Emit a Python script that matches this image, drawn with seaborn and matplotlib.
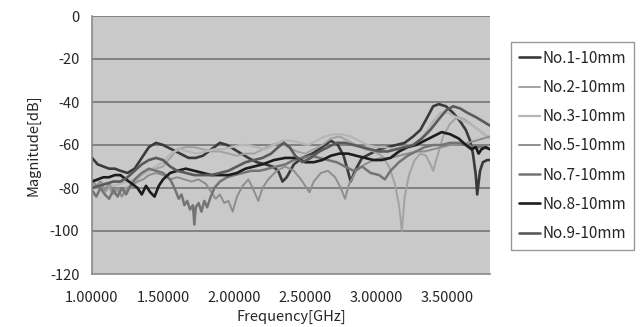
import matplotlib
matplotlib.use("Agg")
import matplotlib.pyplot as plt
import seaborn as sns
import pandas as pd

# Measured transmission magnitude for each 10 mm sample
freq_no1 = [1.00, 1.04, 1.08, 1.12, 1.16, 1.20, 1.25, 1.30, 1.35, 1.40, 1.45, 1.50, 1.56, 1.62, 1.68, 1.73,
            1.78, 1.84, 1.90, 1.95, 2.00, 2.05, 2.10, 2.16, 2.22, 2.27, 2.31, 2.34, 2.37, 2.42, 2.48, 2.55,
            2.62, 2.68, 2.73, 2.77, 2.80, 2.82, 2.85, 2.90, 2.96, 3.02, 3.08, 3.14, 3.20, 3.26, 3.31, 3.36,
            3.40, 3.44, 3.49, 3.54, 3.59, 3.63, 3.66, 3.68, 3.70, 3.71, 3.73, 3.75, 3.78, 3.80]
db_no1 = [-66, -69, -70, -71, -71, -72, -73, -71, -66, -61, -59, -60, -62, -64, -66, -66,
          -65, -62, -59, -60, -62, -64, -66, -68, -69, -70, -72, -77, -75, -69, -66, -64,
          -61, -58, -60, -65, -72, -77, -72, -66, -64, -62, -61, -60, -59, -56, -53, -47,
          -42, -41, -42, -45, -49, -53, -58, -64, -74, -83, -72, -68, -67, -67]

freq_no2 = [1.00, 1.03, 1.06, 1.09, 1.12, 1.15, 1.18, 1.21, 1.24, 1.27, 1.30, 1.35, 1.40, 1.45, 1.50, 1.55,
            1.60, 1.66, 1.72, 1.78, 1.84, 1.90, 1.96, 2.02, 2.08, 2.14, 2.20, 2.26, 2.32, 2.38, 2.44, 2.50,
            2.56, 2.62, 2.68, 2.74, 2.80, 2.86, 2.92, 2.98, 3.04, 3.09, 3.13, 3.16, 3.18, 3.20, 3.23, 3.27,
            3.31, 3.35, 3.38, 3.40, 3.43, 3.47, 3.52, 3.57, 3.62, 3.68, 3.74, 3.80]
db_no2 = [-78, -80, -79, -82, -80, -83, -81, -84, -80, -79, -77, -74, -72, -71, -70, -66,
          -62, -61, -61, -62, -63, -63, -64, -65, -64, -64, -62, -60, -59, -61, -63, -64,
          -62, -60, -57, -56, -58, -60, -62, -63, -65, -70, -78, -88, -100, -84, -74, -67,
          -64, -65, -69, -72, -65, -56, -50, -47, -48, -51, -54, -57]

freq_no3 = [1.00, 1.05, 1.10, 1.15, 1.20, 1.25, 1.30, 1.35, 1.40, 1.45, 1.50, 1.54, 1.58, 1.62, 1.68, 1.74,
            1.80, 1.86, 1.92, 1.98, 2.04, 2.10, 2.16, 2.22, 2.28, 2.34, 2.40, 2.46, 2.52, 2.58, 2.64, 2.70,
            2.76, 2.82, 2.88, 2.94, 3.00, 3.06, 3.12, 3.18, 3.24, 3.30, 3.35, 3.40, 3.45, 3.50, 3.56, 3.62,
            3.68, 3.74, 3.80]
db_no3 = [-76, -77, -78, -79, -78, -77, -76, -74, -72, -70, -68, -65, -63, -62, -63, -64,
          -63, -62, -62, -61, -60, -60, -61, -62, -60, -58, -58, -59, -60, -58, -56, -55,
          -55, -56, -58, -60, -61, -61, -62, -61, -60, -58, -54, -49, -45, -45, -47, -49,
          -51, -54, -57]

freq_no5 = [1.00, 1.03, 1.06, 1.09, 1.12, 1.15, 1.18, 1.21, 1.24, 1.28, 1.32, 1.36, 1.40, 1.45, 1.50, 1.55,
            1.60, 1.65, 1.70, 1.75, 1.80, 1.84, 1.87, 1.90, 1.93, 1.96, 1.99, 2.02, 2.06, 2.10, 2.13, 2.15,
            2.17, 2.20, 2.24, 2.30, 2.36, 2.42, 2.47, 2.51, 2.53, 2.56, 2.61, 2.66, 2.71, 2.75, 2.78, 2.81,
            2.86, 2.92, 2.98, 3.04, 3.10, 3.16, 3.22, 3.28, 3.34, 3.40, 3.46, 3.52, 3.58, 3.64, 3.70, 3.75,
            3.80]
db_no5 = [-76, -79, -77, -81, -78, -82, -80, -84, -81, -79, -77, -76, -74, -73, -74, -76,
          -75, -76, -77, -76, -78, -82, -85, -83, -87, -86, -91, -84, -79, -76, -80, -83,
          -86, -80, -76, -72, -70, -72, -76, -80, -82, -77, -73, -72, -75, -80, -85, -78,
          -72, -69, -67, -66, -66, -65, -64, -63, -63, -62, -61, -60, -60, -59, -58, -57,
          -56]

freq_no7 = [1.00, 1.03, 1.06, 1.09, 1.12, 1.15, 1.18, 1.21, 1.24, 1.27, 1.30, 1.35, 1.40, 1.45, 1.50, 1.55,
            1.58, 1.61, 1.63, 1.65, 1.67, 1.69, 1.71, 1.72, 1.73, 1.75, 1.77, 1.79, 1.81, 1.83, 1.86, 1.90,
            1.95, 2.00, 2.06, 2.12, 2.18, 2.24, 2.30, 2.36, 2.42, 2.48, 2.54, 2.60, 2.66, 2.72, 2.78, 2.84,
            2.90, 2.96, 3.02, 3.06, 3.10, 3.16, 3.22, 3.28, 3.34, 3.40, 3.46, 3.52, 3.58, 3.64, 3.70, 3.75,
            3.80]
db_no7 = [-81, -84, -80, -83, -85, -81, -84, -80, -83, -79, -76, -73, -71, -72, -73, -76,
          -80, -85, -83, -88, -86, -90, -88, -97, -89, -87, -91, -86, -89, -85, -80, -77,
          -75, -74, -73, -72, -72, -71, -70, -69, -67, -66, -65, -66, -67, -68, -70, -72,
          -70, -73, -74, -76, -72, -68, -65, -63, -61, -60, -60, -59, -59, -60, -61, -61,
          -62]

freq_no8 = [1.00, 1.04, 1.08, 1.12, 1.16, 1.20, 1.24, 1.28, 1.32, 1.35, 1.38, 1.41, 1.44, 1.47, 1.50, 1.55,
            1.60, 1.66, 1.72, 1.78, 1.84, 1.90, 1.96, 2.02, 2.08, 2.14, 2.20, 2.28, 2.36, 2.44, 2.50, 2.56,
            2.62, 2.68, 2.74, 2.80, 2.86, 2.92, 2.98, 3.04, 3.10, 3.16, 3.22, 3.28, 3.34, 3.40, 3.46, 3.52,
            3.58, 3.63, 3.67, 3.70, 3.72, 3.74, 3.77, 3.80]
db_no8 = [-77, -76, -75, -75, -74, -74, -76, -78, -80, -83, -79, -82, -84, -79, -76, -73,
          -72, -71, -72, -73, -74, -74, -74, -73, -71, -70, -69, -67, -66, -66, -68, -68,
          -67, -65, -64, -64, -65, -66, -67, -67, -66, -63, -61, -60, -58, -56, -54, -55,
          -57, -60, -62, -61, -64, -62, -61, -62]

freq_no9 = [1.00, 1.05, 1.10, 1.15, 1.20, 1.25, 1.30, 1.35, 1.40, 1.45, 1.50, 1.55, 1.60, 1.66, 1.72, 1.78,
            1.84, 1.90, 1.96, 2.02, 2.08, 2.14, 2.20, 2.26, 2.31, 2.35, 2.39, 2.43, 2.48, 2.54, 2.60, 2.66,
            2.72, 2.78, 2.84, 2.90, 2.96, 3.02, 3.08, 3.14, 3.20, 3.26, 3.32, 3.38, 3.44, 3.49, 3.54, 3.59,
            3.64, 3.70, 3.75, 3.80]
db_no9 = [-80, -79, -78, -77, -77, -75, -72, -69, -67, -66, -67, -70, -72, -73, -74, -74,
          -74, -73, -72, -70, -68, -67, -66, -64, -61, -59, -61, -65, -68, -66, -63, -61,
          -59, -59, -60, -61, -62, -63, -63, -62, -61, -60, -57, -53, -48, -44, -42, -43,
          -45, -47, -49, -51]

labels = ["No.1-10mm", "No.2-10mm", "No.3-10mm", "No.5-10mm", "No.7-10mm", "No.8-10mm", "No.9-10mm"]
freqs = [freq_no1, freq_no2, freq_no3, freq_no5, freq_no7, freq_no8, freq_no9]
mags = [db_no1, db_no2, db_no3, db_no5, db_no7, db_no8, db_no9]
colors = ["#3a3a3a", "#a2a2a2", "#b6b6b6", "#8e8e8e", "#747474", "#1c1c1c", "#5a5a5a"]
widths = [1.9, 1.4, 1.6, 1.4, 1.8, 1.9, 1.9]

x_ticks = [1.0, 1.5, 2.0, 2.5, 3.0, 3.5]
y_ticks = [0, -20, -40, -60, -80, -100, -120]

frames = [pd.DataFrame({"freq": f, "db": m, "sample": lab}) for f, m, lab in zip(freqs, mags, labels)]
df = pd.concat(frames, ignore_index=True)

sns.set_theme(style="white")
plt.rcParams["font.family"] = ["Noto Sans CJK JP", "DejaVu Sans"]

fig = plt.figure(figsize=(6.42, 3.27), dpi=100)
ax = fig.add_axes([92 / 642, 1 - 274 / 327, (490 - 92) / 642, (274 - 16) / 327])
ax.set_facecolor("#c9c9c9")

for lab, col, lw in zip(labels, colors, widths):
    sns.lineplot(data=df[df["sample"] == lab], x="freq", y="db", color=col, linewidth=lw,
                 estimator=None, sort=False, label=lab, ax=ax)

ax.set_xlim(1.0, 3.8)
ax.set_ylim(-120, 0)
ax.set_xticks(x_ticks)
ax.set_xticklabels([f"{v:.5f}" for v in x_ticks], fontsize=10.5)
ax.set_yticks(y_ticks)
ax.set_yticklabels([str(v) for v in y_ticks], fontsize=10.5)
ax.tick_params(axis="x", direction="in", length=4, color="#808080", pad=12)
ax.tick_params(axis="y", length=0, pad=9)

for v in y_ticks[:-1]:
    ax.axhline(v, color="#767676", linewidth=1.2, zorder=0.5)

for side in ["top", "right"]:
    ax.spines[side].set_visible(False)
ax.spines["left"].set_color("#8a8a8a")
ax.spines["bottom"].set_color("#8a8a8a")
ax.spines["left"].set_linewidth(1.2)
ax.spines["bottom"].set_linewidth(1.2)

ax.set_xlabel("Frequency[GHz]", fontsize=10.5, labelpad=4)
ax.set_ylabel("Magnitude[dB]", fontsize=10.5, labelpad=7)

handles, labs = ax.get_legend_handles_labels()
ax.get_legend().remove()
fig.legend(handles, labs, loc="upper left", bbox_to_anchor=(511 / 642, 1 - 42 / 327),
           frameon=True, fancybox=False, edgecolor="#808080", fontsize=11,
           handlelength=1.4, handletextpad=0.15, labelspacing=0.8, borderpad=0.5,
           borderaxespad=0)

fig.savefig("out.png", dpi=100)
